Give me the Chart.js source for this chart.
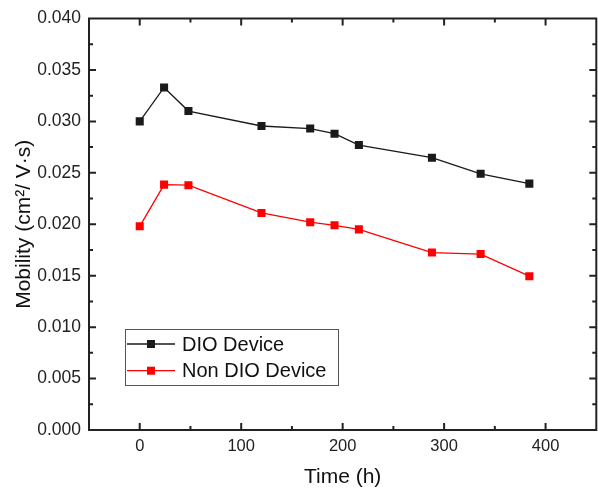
<!DOCTYPE html>
<html lang="en">
<head>
  <meta charset="UTF-8" />
  <title>Mobility vs Time</title>
  <script src="https://cdn.jsdelivr.net/npm/chart.js"></script>
  <style>
    html, body {
      margin: 0;
      overflow: hidden;
      background-color: #fff;
    }

    /* a few px wider than the window: Chart.js keeps a small gap on the right */
    .wrap {
      width: 602px;
      height: 488px;
    }
  </style>
</head>
<body>
  <div class="wrap"><canvas id="graph"></canvas></div>

  <script>
    // values
    const times = [0, 24, 48, 120, 168, 192, 216, 288, 336, 384];
    const dioMobility = [0.0300, 0.0333, 0.0310, 0.02955, 0.0293, 0.0288, 0.0277, 0.02647, 0.0249, 0.02395];
    const nonDioMobility = [0.0198, 0.02385, 0.0238, 0.0211, 0.0202, 0.0199, 0.0195, 0.01725, 0.0171, 0.01495];
    const seriesLabels = ['DIO Device', 'Non DIO Device'];
    const seriesColors = ['#1a1a1a', '#ff0000'];

    const axisColor = '#222';
    const fontFamily = 'Arial, "Liberation Sans", sans-serif';

    function toPoints(ys) {
      return times.map((t, i) => ({ x: t, y: ys[i] }));
    }

    // frame + inward major/minor ticks on all four sides
    const framePlugin = {
      id: 'frame',
      afterDraw(chart) {
        const { ctx, chartArea: a, scales } = chart;
        const xs = scales.x, ys = scales.y;
        const major = 7, minor = 4;
        ctx.save();
        ctx.strokeStyle = axisColor;
        ctx.lineWidth = 2;
        ctx.strokeRect(a.left, a.top, a.right - a.left, a.bottom - a.top);

        ctx.beginPath();
        for (let v = 0; v <= 400; v += 50) {
          const px = xs.getPixelForValue(v);
          const len = v % 100 === 0 ? major : minor;
          ctx.moveTo(px, a.bottom); ctx.lineTo(px, a.bottom - len);
          ctx.moveTo(px, a.top); ctx.lineTo(px, a.top + len);
        }
        for (let k = 1; k < 16; k++) {
          const py = ys.getPixelForValue(k * 0.0025);
          const len = k % 2 === 0 ? major : minor;
          ctx.moveTo(a.left, py); ctx.lineTo(a.left + len, py);
          ctx.moveTo(a.right, py); ctx.lineTo(a.right - len, py);
        }
        ctx.stroke();

        // legend box
        const bx = 125, by = 329, bw = 213, bh = 56;
        ctx.lineWidth = 1;
        ctx.strokeStyle = '#555';
        ctx.strokeRect(bx + 0.5, by + 0.5, bw, bh);
        chart.data.datasets.forEach((ds, i) => {
          const cy = 344 + i * 26.7;
          ctx.strokeStyle = ds.borderColor;
          ctx.lineWidth = 1.3;
          ctx.beginPath();
          ctx.moveTo(127, cy); ctx.lineTo(175, cy);
          ctx.stroke();
          ctx.fillStyle = ds.backgroundColor;
          ctx.fillRect(147, cy - 4, 8, 8);
          ctx.fillStyle = '#111';
          ctx.font = '20px ' + fontFamily;
          ctx.textBaseline = 'middle';
          ctx.fillText(ds.label, 182, cy + 1);
        });
        ctx.restore();
      }
    };

    const ctx = document.getElementById('graph').getContext('2d');
    const chart = new Chart(ctx, {
      type: 'scatter',
      data: {
        datasets: [dioMobility, nonDioMobility].map((ys, i) => ({
          label: seriesLabels[i],
          data: toPoints(ys),
          showLine: true,
          borderColor: seriesColors[i],
          backgroundColor: seriesColors[i],
          borderWidth: 1.3,
          pointStyle: 'rect',
          pointRadius: 5.7,
          pointBorderWidth: 0,
          tension: 0
        }))
      },
      options: {
        responsive: true,
        maintainAspectRatio: false,
        animation: false,
        layout: { padding: { top: 18, right: 1, left: 0, bottom: 0 } },
        plugins: {
          legend: { display: false },
          tooltip: { enabled: false }
        },
        scales: {
          x: {
            type: 'linear',
            min: -50,
            max: 450,
            grid: { display: false, drawTicks: false },
            border: { display: false },
            ticks: {
              stepSize: 50,
              padding: 0,
              color: axisColor,
              autoSkip: false,
              maxRotation: 0,
              // tall line box pushes the labels down
              font: { family: fontFamily, size: 16.5, lineHeight: '32px' },
              callback: v => (v >= 0 && v % 100 === 0 ? String(v) : '')
            },
            afterFit: s => { s.height = 58; },
            title: {
              display: true,
              text: 'Time (h)',
              color: '#111',
              font: { family: fontFamily, size: 21, lineHeight: 1 },
              padding: { top: 0, bottom: 0 }
            }
          },
          y: {
            min: 0,
            max: 0.04,
            grid: { display: false, drawTicks: false },
            border: { display: false },
            ticks: {
              stepSize: 0.005,
              padding: 8,
              color: axisColor,
              font: { family: fontFamily, size: 17.5 },
              callback: v => v.toFixed(3)
            },
            afterFit: s => { s.width = 89; },
            title: {
              display: true,
              text: 'Mobility (cm²/ V·s)',
              color: '#111',
              font: { family: fontFamily, size: 21, lineHeight: 1 },
              padding: { top: 14, bottom: 0 }
            }
          }
        }
      },
      plugins: [framePlugin]
    });
  </script>
</body>
</html>
